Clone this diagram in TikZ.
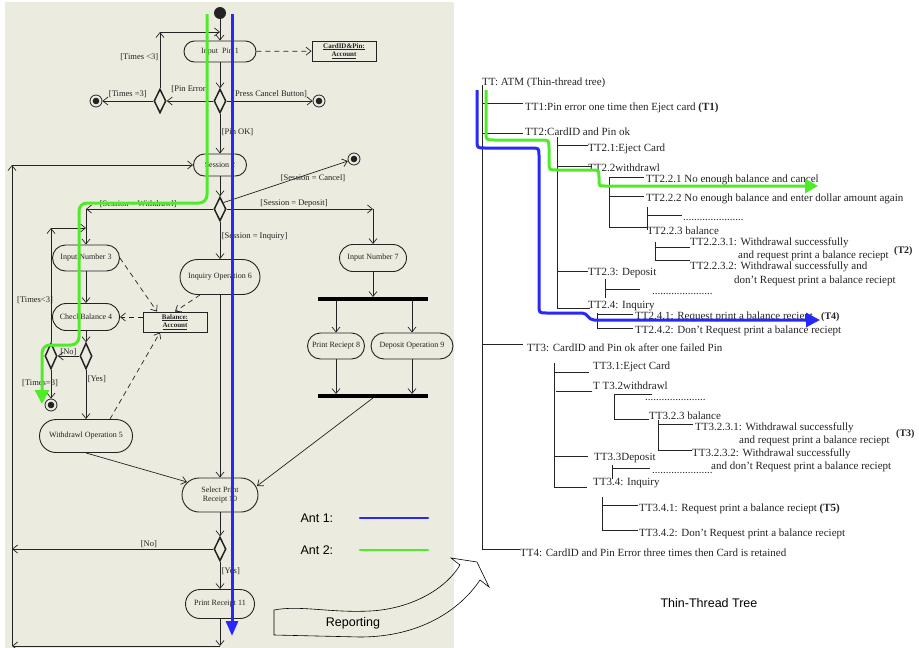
\documentclass[tikz,border=0pt]{standalone}
\usepackage{fontspec}
\setmainfont{Liberation Serif}
\setsansfont{Liberation Sans}
\usetikzlibrary{arrows.meta,shapes.geometric}

\definecolor{panel}{RGB}{235,235,223}
\definecolor{ink}{RGB}{35,35,35}
\definecolor{antblue}{RGB}{40,40,250}
\definecolor{antgreen}{RGB}{80,235,40}

\tikzset{
  diag/.style={font=\fontsize{8}{9.5}\selectfont, text=ink},
  act/.style 2 args={diag, draw=ink, line width=0.9pt, rectangle, rounded corners=#2*0.5pt,
    minimum width=#1pt, minimum height=#2pt, inner sep=1pt, align=center},
  dec/.style={draw=ink, diamond, line width=1.5pt, minimum width=12pt, minimum height=24pt, inner sep=0pt},
  fin/.style={circle, draw=ink, line width=0.8pt, minimum size=12pt, inner sep=0pt,
    path picture={\fill[ink] (path picture bounding box.center) circle (3.3pt);}},
  obj/.style={draw=ink, line width=0.9pt, inner sep=0pt, align=center,
    font=\fontsize{7}{8.5}\selectfont\bfseries, text=ink, minimum width=64pt, minimum height=20pt},
  syncbar/.style={fill=black, inner sep=0pt, minimum width=110pt, minimum height=3.5pt},
  flow/.style={draw=ink, line width=0.7pt, -{Straight Barb[length=5pt,width=8pt]}},
  dep/.style={flow, dash pattern=on 5pt off 4pt},
  lbl/.style={font=\fontsize{8.5}{9}\selectfont, text=ink, inner sep=1.5pt},
  antpath/.style={line width=3pt},
  tl/.style={draw=ink, line width=0.8pt},
  tt/.style={font=\fontsize{11}{12.5}\selectfont, text=ink, anchor=west, inner sep=0pt},
  tag/.style={tt, font=\bfseries\fontsize{10}{12}\selectfont},
  legend/.style={font=\sffamily\fontsize{12.5}{14}\selectfont, text=black},
}

\begin{document}
\begin{tikzpicture}[x=1pt, y=-1pt]
\useasboundingbox (0,0) rectangle (919,648);
\fill[panel] (5,2) rectangle (454,648);

% ---------- activity diagram ----------
\node[fill=ink, circle, inner sep=0pt, minimum size=12pt] (start) at (220,13) {};
\node[act={72}{21}] (pin) at (220,51.5) {Input\enspace Pin 1};
\node[obj] (card) at (344,51) {\underline{CardID\&Pin:}\\\underline{Account}};
\node[dec] (d1) at (220,101) {};
\node[dec] (d0) at (160,101) {};
\node[fin] (e1) at (96,101) {};
\node[fin] (e2) at (319,101) {};
\node[act={53}{22}] (ses) at (220,165) {Session 2};
\node[fin] (e3) at (354,159) {};
\node[dec] (d2) at (220,209) {};
\node[act={67}{26}] (in3) at (86,258) {Input Number 3};
\node[act={67}{27}] (chk) at (86,317) {CheckBalance 4};
\node[obj] (bal) at (175,322) {\underline{Balance:}\\\underline{Account}};
\node[dec, minimum height=26pt] (d3) at (86,356) {};
\node[dec, minimum height=26pt] (d4) at (51,356) {};
\node[fin] (e4) at (51,405) {};
\node[act={93}{33}] (wd) at (86,436) {Withdrawl Operation 5};
\node[act={80}{35}] (inq) at (220,277) {Inquiry Operation 6};
\node[act={67}{27}] (in7) at (373,258) {Input Number 7};
\node[syncbar] (fork) at (373,299) {};
\node[act={57}{26}] (pr8) at (336,346) {Print Reciept 8};
\node[act={82}{26}] (dp9) at (412,346) {Deposit Operation 9};
\node[syncbar] (join) at (373,396) {};
\node[act={76}{34}] (sel) at (220,495) {Select Print\\Receipt 10};
\node[dec] (d5) at (220,549) {};
\node[act={69}{29}] (pr11) at (220,604) {Print Receipt 11};

\coordinate (loopPin) at (160,32);
\coordinate (wl) at (86,209);
\coordinate (dr) at (373,209);
\coordinate (loopChk) at (51,228);
\coordinate (noEnd) at (12,549);
\coordinate (bottomR) at (220,646);
\coordinate (bottomL) at (12,646);
\coordinate (topL) at (12,165);

\draw[flow] (start) -- (pin);
\draw[dep] (pin) -- (card);
\draw[flow] (pin) -- (d1);
\draw[flow] (d1) -- node[lbl, above=7pt]{[Pin Error]} (d0);
\draw[flow] (d1) -- node[lbl, above=2pt]{[Press Cancel Button]} (e2);
\draw[flow] (d0) -- node[lbl, above=2pt]{[Times =3]} (e1);
\draw[flow] (d0) -- node[lbl, left, pos=0.55]{[Times <3]} (loopPin);
\draw[flow] (loopPin) -- (loopPin -| pin);
\draw[flow] (d1) -- node[lbl, right, pos=0.46]{[Pin OK]} (ses);
\draw[flow] (ses) -- (d2);
\draw[flow] (d2.north east) -- node[lbl, below, pos=0.72]{[Session = Cancel]} (e3);
\draw[flow] (d2) -- node[lbl, above, pos=0.59]{[Session = Withdrawl]} (wl);
\draw[flow] (wl) -- (in3);
\draw[flow] (d2) -- node[lbl, above, pos=0.46]{[Session = Deposit]} (dr);
\draw[flow] (dr) -- (in7);
\draw[flow] (d2) -- node[lbl, right, pos=0.4]{[Session = Inquiry]} (inq);
\draw[flow] (in3) -- (chk);
\draw[flow] (chk) -- (d3);
\draw[flow] (d3) -- node[lbl, above, inner sep=0pt]{[No]} (d4);
\draw[flow] (d4) -- node[lbl, pos=0.45, xshift=-11pt]{[Times=3]} (e4);
\draw[flow] (d3) -- node[lbl, right, pos=0.2]{[Yes]} (wd);
\draw[flow] (d4) -- node[lbl, pos=0.37, xshift=-16pt]{[Times<3]} (loopChk);
\draw[flow] (loopChk) -- (loopChk -| in3);
\draw[dep] (in3.east) -- ([xshift=-18pt]bal.north);
\draw[dep] ([xshift=-20pt]inq.south) -- (bal.north);
\draw[dep] (bal.west |- chk) -- (chk);
\draw[dep] ([xshift=24pt]wd.north) -- ([xshift=-15pt]bal.south);
\draw[flow] (wd.south) -- ([shift={(-33,-13)}]sel.center);
\draw[flow] (inq) -- (sel);
\draw[flow] (in7) -- (fork);
\draw[flow] (fork.south -| pr8) -- (pr8);
\draw[flow] (fork.south -| dp9) -- (dp9);
\draw[flow] (pr8) -- (pr8 |- join.north);
\draw[flow] (dp9) -- (dp9 |- join.north);
\draw[flow] (join.south) -- ([shift={(37,-9)}]sel.center);
\draw[flow] (sel) -- (d5);
\draw[flow] (d5) -- node[lbl, above, pos=0.32]{[No]} (noEnd);
\draw[flow] (d5) -- node[lbl, right, pos=0.36]{[Yes]} (pr11);
\draw[flow] (pr11) -- (bottomR);
\draw[flow] (bottomR) -- (bottomL);
\draw[flow] (bottomL) -- (topL);
\draw[flow] (topL) -- (ses);

% legend
\node[legend, anchor=west] (ant1) at (297,518) {Ant 1:};
\node[legend, anchor=west] (ant2) at (297,550) {Ant 2:};
\draw[antblue, line width=2.5pt, line cap=round] (360,518) -- (428,518);
\draw[antgreen, line width=2.5pt, line cap=round] (360,550) -- (428,550);

% reporting arrow
\draw[black, line width=0.6pt] (274,610) .. controls (300,605) and (330,613) .. (370,611)
  .. controls (410,609) and (445,590) .. (460,565) -- (451,558) -- (477,562) -- (489,587) -- (480,580)
  .. controls (460,610) and (420,637) .. (360,637) -- (274,635) -- cycle;
\node[legend] (rep) at (353,623) {Reporting};

% ---------- thin-thread tree ----------
\node[tt] (tt) at (482,83) {TT: ATM (Thin-thread tree)};
\node[tt] (tt1) at (525,108) {TT1:Pin error one time then Eject card \textbf{(T1)}};
\node[tt] (tt2) at (525,132) {TT2:CardID and Pin ok};
\node[tt] (tt21) at (588,149) {TT2.1:Eject Card};
\node[tt] (tt22) at (588,168) {TT2.2withdrawl};
\node[tt] (tt221) at (646,180) {TT2.2.1 No enough balance and cancel};
\node[tt] (tt222) at (646,199) {TT2.2.2 No enough balance and enter dollar amount again};
\node[tt] (dots1) at (683,220) {......................};
\node[tt] (tt223) at (647,231) {TT2.2.3 balance};
\node[tt] (tt2231a) at (690,243) {TT2.2.3.1: Withdrawal successfully};
\node[tt] (tt2231b) at (738,256) {and request print a balance reciept};
\node[tag] (t2) at (894,251) {(T2)};
\node[tt] (tt2232a) at (690,267) {TT2.2.3.2: Withdrawal successfully and};
\node[tt] (tt2232b) at (734,281) {don't Request print a balance reciept};
\node[tt] (tt23) at (588,273) {TT2.3: Deposit};
\node[tt] (dots2) at (652,294) {......................};
\node[tt] (tt24) at (588,306) {TT2.4: Inquiry};
\node[tt] (tt241) at (635,317) {TT2.4.1: Request print a balance reciept};
\node[tag] (t4) at (821,317) {(T4)};
\node[tt] (tt242) at (635,331) {TT2.4.2: Don't Request print a balance reciept};
\node[tt] (tt3) at (527,348) {TT3: CardID and Pin ok after one failed Pin};
\node[tt] (tt31) at (593,367) {TT3.1:Eject Card};
\node[tt] (tt32) at (593,386) {T T3.2withdrawl};
\node[tt] (dots3) at (645,400) {......................};
\node[tt] (tt323) at (649,416) {TT3.2.3 balance};
\node[tt] (tt3231a) at (695,428) {TT3.2.3.1: Withdrawal successfully};
\node[tt] (tt3231b) at (739,441) {and request print a balance reciept};
\node[tag] (t3) at (896,434) {(T3)};
\node[tt] (tt3232a) at (692,454) {TT3.2.3.2: Withdrawal successfully};
\node[tt] (tt3232b) at (711,467) {and don't Request print a balance reciept};
\node[tt] (tt33) at (594,458) {TT3.3Deposit};
\node[tt] (dots4) at (652,473) {......................};
\node[tt] (tt34) at (593,483) {TT3.4: Inquiry};
\node[tt] (tt341) at (639,509) {TT3.4.1: Request print a balance reciept \textbf{(T5)}};
\node[tt] (tt342) at (639,534) {TT3.4.2: Don't Request print a balance reciept};
\node[tt] (tt4) at (520,553) {TT4: CardID and Pin Error three times then Card is retained};
\node[legend] (ttitle) at (709,603) {Thin-Thread Tree};

% tree branches
\draw[tl] (482,85) -- (482,549) -- (520,549);
\draw[tl] (482,103) -- (523,103);
\draw[tl] (482,133) -- (523,133);
\draw[tl] (557,137) -- (557,308) -- (590,308);
\draw[tl] (557,145) -- (588,145);
\draw[tl] (557,166) -- (592,166);
\draw[tl] (609,177) -- (609,227) -- (647,227);
\draw[tl] (609,177) -- (644,177);
\draw[tl] (609,196) -- (644,196);
\draw[tl] (647,207) -- (647,230);
\draw[tl] (647,215) -- (682,215);
\draw[tl] (655,242) -- (655,260) -- (690,260);
\draw[tl] (655,247) -- (690,247);
\draw[tl] (557,271) -- (588,271);
\draw[tl] (605,279) -- (605,298);
\draw[tl] (605,289) -- (640,289);
\draw[tl] (597,313) -- (597,328) -- (633,328);
\draw[tl] (597,314) -- (633,314);
\draw[tl] (482,344) -- (523,344);
\draw[tl] (554,363) -- (554,487) -- (587,487);
\draw[tl] (554,372) -- (589,372);
\draw[tl] (556,391) -- (592,391);
\draw[tl] (614,394) -- (614,419) -- (649,419);
\draw[tl] (614,394) -- (652,394);
\draw[tl] (658,420) -- (658,450) -- (692,450);
\draw[tl] (658,424) -- (693,424);
\draw[tl] (554,456) -- (588,456);
\draw[tl] (612,465) -- (612,479);
\draw[tl] (612,468) -- (650,468);
\draw[tl] (602,497) -- (602,530) -- (638,530);
\draw[tl] (602,505) -- (638,505);

% ---------- ant traces ----------
\draw[antgreen, antpath, rounded corners=8pt, -{Triangle[length=14pt,width=14pt]}]
  (207,14) -- (207,203) -- (79,203) -- (79,345) -- (42,345) -- (42,404);
\draw[antblue, antpath, -{Triangle[length=15pt,width=12pt]}] (232,14) -- (232,636);
\draw[antblue, antpath, -{Triangle[length=14pt,width=14pt]}]
  (477,90) -- (477,140) .. controls (477,148) .. (485,148) -- (531,148)
  .. controls (539,148) .. (539,156) -- (539,305) .. controls (539,313) .. (547,313) -- (582,313)
  .. controls (588,313) and (588,320) .. (594,320) -- (820,320);
\draw[antgreen, antpath, -{Triangle[length=13pt,width=14pt]}]
  (486,90) -- (486,132) .. controls (486,140) .. (494,140) -- (541,140)
  .. controls (549,140) .. (549,148) -- (549,162) .. controls (549,170) .. (557,170) -- (591,170)
  .. controls (599,170) .. (599,178) -- (599,180) .. controls (599,186) .. (605,186) -- (818,186);
\end{tikzpicture}
\end{document}
